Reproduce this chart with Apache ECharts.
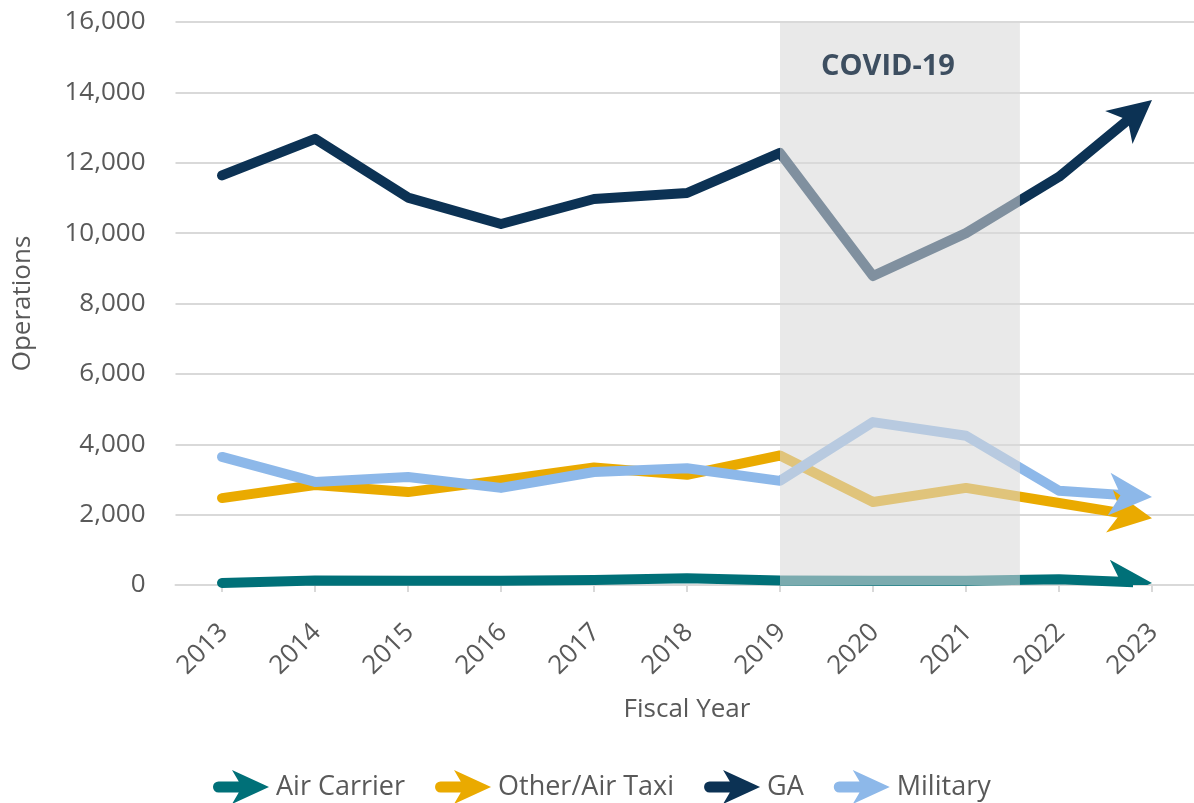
<!DOCTYPE html>
<html><head><meta charset="utf-8">
<script src="https://cdn.jsdelivr.net/npm/echarts@6/dist/echarts.min.js"></script>
<style>html,body{margin:0;padding:0;background:#fff}#c{width:1194px;height:803px}</style>
</head><body><div id="c"></div>
<script>
// ---- data ----
const years = ['2013','2014','2015','2016','2017','2018','2019','2020','2021','2022','2023'];
const airCarrier   = [60, 130, 120, 120, 140, 190, 130, 120, 120, 160, 60];
const otherAirTaxi = [2470, 2840, 2640, 2980, 3340, 3130, 3680, 2360, 2760, 2330, 1900];
const ga           = [11640, 12680, 11010, 10260, 10970, 11140, 12280, 8780, 10000, 11600, 13780];
const military     = [3640, 2930, 3070, 2760, 3210, 3320, 2960, 4630, 4240, 2680, 2500];
const yTicks = [0, 2000, 4000, 6000, 8000, 10000, 12000, 14000, 16000];
const seriesNames = ['Air Carrier', 'Other/Air Taxi', 'GA', 'Military'];
const covidLabel = 'COVID-19';
const covidFrom = 6;     // 2019
const covidTo = 8.58;    // part way into 2021/2022

// ---- styles ----
const colors = ['#007078', '#EAAA00', '#0C3254', '#8DB8E9'];
const allSeries = [airCarrier, otherAirTaxi, ga, military];
const FONT = 'Open Sans';
const TXT = '#595959';
const FS = 26;
const LEGEND_ICON = 'path://M5.5,11.5L33,11.5L33,22.5L5.5,22.5A5.5,5.5,0,0,1,5.5,11.5Z M19,0L56,17L19,34L29,17Z';

const chart = echarts.init(document.getElementById('c'), null, {renderer: 'canvas'});

const lineSeries = allSeries.map((vals, i) => ({
  name: seriesNames[i],
  type: 'line',
  xAxisIndex: 1,
  yAxisIndex: 0,
  data: vals.map((v, k) => [k, v]),
  showSymbol: false,
  symbol: 'none',
  lineStyle: {width: 10, cap: 'round', join: 'round'},
  itemStyle: {color: colors[i]},
  z: 2,
  silent: true
}));

// arrowheads at the end of each line, oriented along the last segment
const arrowSeries = {
  name: 'arrows',
  type: 'custom',
  xAxisIndex: 1,
  yAxisIndex: 0,
  clip: true,
  silent: true,
  z: 3,
  data: allSeries.map((vals, s) => [vals.length - 1, vals[vals.length - 1], s]),
  renderItem: (params, api) => {
    const s = api.value(2);
    const vals = allSeries[s];
    const n = vals.length;
    const p1 = api.coord([n - 2, vals[n - 2]]);
    const p2 = api.coord([n - 1, vals[n - 1]]);
    const dx = p2[0] - p1[0], dy = p2[1] - p1[1];
    const len = Math.sqrt(dx * dx + dy * dy);
    const ux = dx / len, uy = dy / len;
    const px = -uy, py = ux;
    const L = 43, H = 21.5, N = 31.4;
    const pts = [
      [p2[0], p2[1]],
      [p2[0] - ux * L + px * H, p2[1] - uy * L + py * H],
      [p2[0] - ux * N, p2[1] - uy * N],
      [p2[0] - ux * L - px * H, p2[1] - uy * L - py * H]
    ];
    return {type: 'polygon', shape: {points: pts}, style: {fill: colors[s]}};
  }
};

const option = {
  animation: false,
  backgroundColor: '#fff',
  textStyle: {fontFamily: FONT},
  grid: {left: 175.5, top: 22, width: 1023, height: 563, outerBoundsMode: 'none'},
  legend: {
    left: 208, top: 765,
    itemWidth: 56, itemHeight: 34, itemGap: 30,
    textStyle: {fontSize: 27, color: TXT, fontFamily: FONT, padding: [0, 0, 0, 2]},
    data: seriesNames.map((n, i) => ({name: n, icon: LEGEND_ICON, itemStyle: {color: colors[i]}})),
    selectedMode: false
  },
  visualMap: allSeries.map((vals, i) => ({
    type: 'piecewise', show: false, seriesIndex: i, dimension: 0,
    pieces: [{gte: -1, lt: 9.8, color: colors[i]}, {gte: 9.8, lte: 11, color: 'rgba(255,255,255,0)'}]
  })),
  xAxis: [{
    type: 'category',
    data: years,
    boundaryGap: true,
    name: 'Fiscal Year',
    nameLocation: 'middle',
    nameGap: 112,
    nameTextStyle: {fontSize: FS, color: TXT, fontFamily: FONT},
    axisLine: {show: true, lineStyle: {color: '#d9d9d9', width: 2}},
    axisTick: {show: true, alignWithLabel: true, length: 7, lineStyle: {color: '#d9d9d9', width: 2}},
    axisLabel: {rotate: 45, fontSize: FS, color: TXT, fontFamily: FONT, margin: 45, padding: [0, -2.5, 0, 0]},
    splitLine: {show: false}
  }, {
    type: 'value', min: -0.5, max: 10.5, show: false, splitLine: {show: false}
  }],
  yAxis: {
    type: 'value',
    min: yTicks[0], max: yTicks[yTicks.length - 1], interval: yTicks[1] - yTicks[0],
    name: 'Operations',
    nameLocation: 'middle',
    nameRotate: 90,
    nameGap: 140,
    nameTextStyle: {fontSize: FS, color: TXT, fontFamily: FONT},
    axisLine: {show: false},
    axisTick: {show: false},
    axisLabel: {fontSize: FS, color: TXT, fontFamily: FONT, margin: 30,
      formatter: v => v.toLocaleString('en-US')},
    splitLine: {lineStyle: {color: '#d9d9d9', width: 2}}
  },
  series: lineSeries.concat([arrowSeries, {
    name: 'covid', type: 'line', xAxisIndex: 1, yAxisIndex: 0, data: [], silent: true,
    markArea: {
      silent: true, z: 4,
      itemStyle: {color: 'rgba(216,216,216,0.57)'},
      label: {show: true, position: 'insideTop', distance: 30, offset: [-12, 0],
        formatter: covidLabel, fontSize: 29, fontWeight: 'bold', color: '#3d4e60', fontFamily: FONT},
      data: [[{xAxis: covidFrom, yAxis: yTicks[yTicks.length - 1]}, {xAxis: covidTo, yAxis: 0}]]
    }
  }])
};

chart.setOption(option);
</script>
</body></html>
